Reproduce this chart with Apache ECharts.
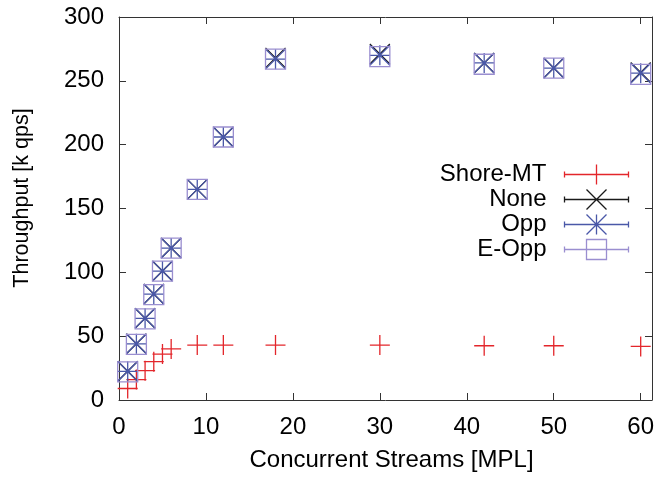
<!DOCTYPE html>
<html>
<head>
<meta charset="utf-8">
<script src="https://cdn.jsdelivr.net/npm/echarts@6/dist/echarts.min.js"></script>
<style>html,body{margin:0;padding:0;background:#fff}#c{width:658px;height:477px}</style>
</head>
<body>
<div id="c"></div>
<script>
const seriesNames = ['Shore-MT', 'None', 'Opp', 'E-Opp'];
const mpl = [1, 2, 3, 4, 5, 6, 9, 12, 18, 30, 42, 50, 60];
const shoreMT = [9, 16, 23, 30, 36, 40, 43, 43, 43, 43, 42.5, 42.5, 42];
const none = [22.5, 44, 64, 83, 101, 119, 165, 206, 268, 271, 264, 260, 256.5];
const opp = [22.5, 44, 64, 83, 101, 119, 165, 206, 267, 270, 264, 260, 256];
const eOpp = [22, 43.5, 63.5, 82.5, 101, 119, 165, 206, 267, 269, 263, 260, 255];
const xTicks = [0, 10, 20, 30, 40, 50, 60];
const yTicks = [0, 50, 100, 150, 200, 250, 300];

const colors = ['#e3262b', '#1a1a1a', '#4a58a8', '#9a8ed0'];
const symPlus = 'path://M0,10L20,10M10,0L10,20';
const symX = 'path://M0,0L20,20M20,0L0,20';
const symStar = 'path://M0,10L20,10M10,0L10,20M0,0L20,20M20,0L0,20';
const symSq = 'path://M0,0L20,0L20,20L0,20Z';
const syms = [symPlus, symX, symStar, symSq];
const bar = 'M0,10L64,10M0,7L0,13M64,7L64,13';
const icons = [
  'path://' + bar + 'M32,0L32,20',
  'path://' + bar + 'M22,0L42,20M42,0L22,20',
  'path://' + bar + 'M22,10L42,10M32,0L32,20M22,0L42,20M42,0L22,20',
  'path://' + bar + 'M22,0L42,0L42,20L22,20Z'
];
const values = [shoreMT, none, opp, eOpp];

const font = 'Liberation Sans, Arial, Helvetica, sans-serif';
const chart = echarts.init(document.getElementById('c'), null, {renderer: 'canvas'});
const axisCommon = {
  axisLine: {show: true, onZero: false, lineStyle: {color: '#333', width: 1}},
  axisTick: {show: true, inside: true, length: 7, lineStyle: {color: '#333'}},
  splitLine: {show: false}
};
chart.setOption({
  animation: false,
  backgroundColor: '#fff',
  grid: {left: 119, top: 17, right: 6, bottom: 75, show: false},
  legend: {
    orient: 'vertical', right: 22, top: 157, align: 'right',
    itemWidth: 64, itemHeight: 20, itemGap: 0,
    textStyle: {fontSize: 24, lineHeight: 24, fontFamily: font, color: '#000', padding: [0, 13, 0, 0]},
    data: seriesNames.map((n, i) => ({
      name: n, icon: icons[i],
      itemStyle: {color: 'none', borderColor: colors[i], borderWidth: 1.3}
    }))
  },
  xAxis: [
    Object.assign({}, axisCommon, {
      type: 'value', min: 0, max: 61.3, interval: 10, position: 'bottom',
      name: 'Concurrent Streams [MPL]', nameLocation: 'middle', nameGap: 48,
      nameTextStyle: {fontSize: 24, fontFamily: font, color: '#000', padding: [0, 0, 0, 12]},
      axisLabel: {fontSize: 24, fontFamily: font, color: '#000', margin: 15,
        formatter: v => xTicks.includes(v) ? String(v) : ''}
    }),
    Object.assign({}, axisCommon, {
      type: 'value', min: 0, max: 61.3, interval: 10, position: 'top',
      axisLabel: {show: false}
    })
  ],
  yAxis: [
    Object.assign({}, axisCommon, {
      type: 'value', min: 0, max: 300, interval: 50, position: 'left',
      name: 'Throughput [k qps]', nameLocation: 'middle', nameGap: 86,
      nameTextStyle: {fontSize: 21.5, fontFamily: font, color: '#000', padding: [0, 0, 0, 21]},
      axisLabel: {fontSize: 24, fontFamily: font, color: '#000', margin: 15,
        formatter: v => yTicks.includes(v) ? String(v) : ''}
    }),
    Object.assign({}, axisCommon, {
      type: 'value', min: 0, max: 300, interval: 50, position: 'right',
      axisLabel: {show: false}
    })
  ],
  series: seriesNames.map((n, i) => ({
    name: n, type: 'scatter', xAxisIndex: 0, yAxisIndex: 0,
    symbol: syms[i], symbolSize: 20,
    itemStyle: {color: 'none', borderColor: colors[i], borderWidth: 1.3, opacity: 1},
    emphasis: {disabled: true},
    data: mpl.map((x, k) => [x, values[i][k]])
  }))
});
</script>
</body>
</html>
